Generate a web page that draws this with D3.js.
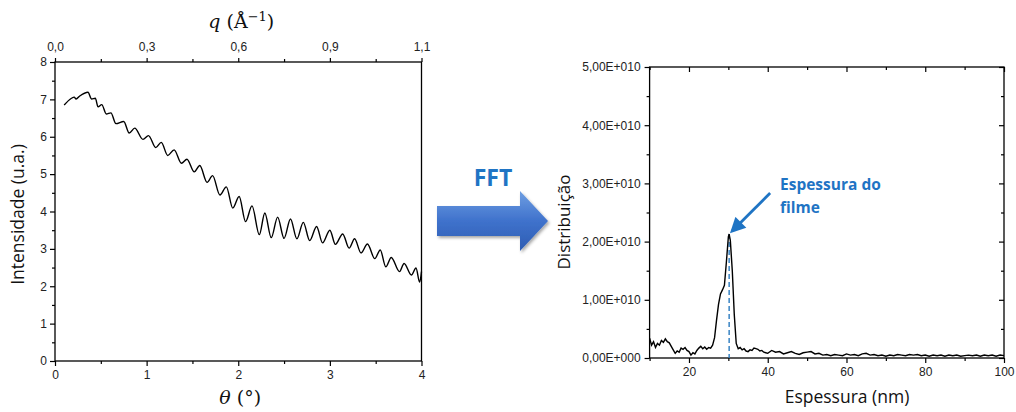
<!DOCTYPE html>
<html>
<head>
<meta charset="utf-8">
<script src="https://cdn.jsdelivr.net/npm/d3@7"></script>
<style>
body{margin:0;background:#fff;}
</style>
</head>
<body>
<svg id="chart" width="1016" height="412"></svg>
<script>
var thetaValues = [0.10,0.18,0.21,0.23,0.27,0.36,0.40,0.44,0.47,0.51,0.56,0.61,0.665,0.75,0.81,0.87,0.96,1.02,1.10,1.16,1.23,1.30,1.38,1.44,1.52,1.58,1.66,1.72,1.80,1.87,1.94,2.01,2.08,2.15,2.23,2.29,2.36,2.43,2.50,2.57,2.64,2.71,2.78,2.855,2.92,3.00,3.06,3.14,3.21,3.27,3.34,3.41,3.49,3.55,3.61,3.67,3.76,3.81,3.89,3.94,3.98,4.00];
var intensityValues = [6.85,7.03,7.06,7.01,7.09,7.19,7.01,7.03,6.80,6.86,6.61,6.64,6.35,6.41,6.10,6.23,5.93,6.03,5.71,5.85,5.50,5.65,5.29,5.40,5.06,5.23,4.78,4.96,4.44,4.66,4.09,4.40,3.73,4.15,3.38,3.96,3.30,3.85,3.28,3.80,3.27,3.71,3.22,3.60,3.16,3.50,3.12,3.40,3.02,3.27,2.89,3.13,2.74,2.97,2.52,2.77,2.39,2.61,2.30,2.49,2.11,2.39];
var thetaTicks = [0,1,2,3,4];
var thetaMinor = [0.5,1.5,2.5,3.5];
var qTickLabels = ["0,0","0,3","0,6","0,9","1,1"];
var intensityTicks = [0,1,2,3,4,5,6,7,8];
var intensityMinor = [0.5,1.5,2.5,3.5,4.5,5.5,6.5,7.5];

// right panel: thickness distribution (values in units of 1E+010)
var thicknessValues = [10,10.5,11,11.5,12,12.5,13,13.5,14,14.5,15,15.5,16,16.5,17,17.5,18,18.5,19,19.5,20,20.5,21,21.5,22,22.5,23,23.5,24,24.5,25,25.5,26,26.5,27,27.5,28,28.5,29,29.5,30,30.2,30.5,31,31.5,32,32.5,33,33.5,34,34.5,35,35.5,36,36.5,37,37.5,38,38.5,39,39.5,40,
  41,42,43,44,45,46,47,48,49,50,51,52,53,54,55,56,57,58,59,60,61,62,63,64,65,66,67,68,69,70,71,72,73,74,75,76,77,78,79,80,81,82,83,84,85,86,87,88,89,90,91,92,93,94,95,96,97,98,99,100];
var distValues = [0.34,0.22,0.28,0.18,0.25,0.22,0.30,0.27,0.33,0.28,0.26,0.20,0.14,0.08,0.12,0.10,0.17,0.15,0.18,0.13,0.11,0.05,0.09,0.07,0.13,0.17,0.20,0.16,0.19,0.15,0.18,0.17,0.22,0.35,0.65,0.92,1.10,1.17,1.25,1.65,2.08,2.13,2.02,1.50,0.75,0.25,0.16,0.18,0.14,0.16,0.12,0.11,0.14,0.13,0.17,0.16,0.15,0.12,0.13,0.10,0.09,0.08,
  0.13,0.10,0.11,0.07,0.09,0.11,0.08,0.06,0.09,0.10,0.11,0.07,0.08,0.05,0.06,0.04,0.06,0.05,0.04,0.07,0.05,0.06,0.04,0.07,0.08,0.05,0.06,0.04,0.05,0.03,0.05,0.04,0.06,0.05,0.04,0.06,0.05,0.06,0.04,0.05,0.03,0.05,0.04,0.05,0.03,0.05,0.04,0.05,0.03,0.04,0.05,0.04,0.05,0.03,0.05,0.04,0.05,0.03,0.05,0.04];
var thicknessTicks = [20,40,60,80,100];
var thicknessMinor = [10,30,50,70,90];
var distTicks = [0,1,2,3,4,5];
var distMinor = [0.5,1.5,2.5,3.5,4.5];
var distTickLabels = ["0,00E+000","1,00E+010","2,00E+010","3,00E+010","4,00E+010","5,00E+010"];
var peakThickness = 30.2;
var peakValue = 2.13;

var blue = "#1f74c4";
var tickFont = "'Liberation Sans', Arial, sans-serif";
var titleFont = "'Open Sans', 'Noto Sans', sans-serif";

var svg = d3.select("#chart");
var defs = svg.append("defs");

function tidy(g, size){
  g.select(".domain").remove();
  g.selectAll("line").attr("stroke", "#000").attr("stroke-width", 1.2);
  g.selectAll("text").attr("fill", "#222").attr("font-size", size).attr("font-family", tickFont);
}

// ---------- left panel ----------
var L = {left: 55, right: 421.5, top: 62, bottom: 361};
var xL = d3.scaleLinear().domain([0, 4]).range([L.left, L.right]);
var yL = d3.scaleLinear().domain([0, 8]).range([L.bottom, L.top]);

svg.append("g").attr("transform", "translate(0," + L.bottom + ")")
  .call(d3.axisBottom(xL).tickValues(thetaTicks).tickSize(5).tickPadding(4).tickFormat(d3.format("d")))
  .call(tidy, 12);
svg.append("g").attr("transform", "translate(0," + L.bottom + ")")
  .call(d3.axisBottom(xL).tickValues(thetaMinor).tickSize(3).tickFormat(""))
  .call(tidy, 12);
svg.append("g").attr("transform", "translate(0," + L.top + ")")
  .call(d3.axisTop(xL).tickValues(thetaTicks).tickSize(4).tickPadding(7).tickFormat(function(d, i){ return qTickLabels[i]; }))
  .call(tidy, 12);
svg.append("g").attr("transform", "translate(0," + L.top + ")")
  .call(d3.axisTop(xL).tickValues(thetaMinor).tickSize(3).tickFormat(""))
  .call(tidy, 12);
svg.append("g").attr("transform", "translate(" + L.left + ",0)")
  .call(d3.axisLeft(yL).tickValues(intensityTicks).tickSize(5).tickPadding(3).tickFormat(d3.format("d")))
  .call(tidy, 12);
svg.append("g").attr("transform", "translate(" + L.left + ",0)")
  .call(d3.axisLeft(yL).tickValues(intensityMinor).tickSize(3).tickFormat(""))
  .call(tidy, 12);

svg.append("rect").attr("x", L.left).attr("y", L.top)
  .attr("width", L.right - L.left).attr("height", L.bottom - L.top)
  .attr("fill", "none").attr("stroke", "#000").attr("stroke-width", 1.3);

var lineL = d3.line()
  .x(function(d, i){ return xL(thetaValues[i]); })
  .y(function(d){ return yL(d); })
  .curve(d3.curveMonotoneX);
svg.append("path").datum(intensityValues)
  .attr("d", lineL).attr("fill", "none").attr("stroke", "#000").attr("stroke-width", 1.4);

// axis titles
svg.append("text").attr("transform", "translate(24," + ((L.top + L.bottom) / 2 + 3) + ") rotate(-90)")
  .attr("text-anchor", "middle").attr("font-family", titleFont).attr("font-size", 17.5).attr("fill", "#111")
  .text("Intensidade (u.a.)");
var thetaTitle = svg.append("text").attr("x", (L.left + L.right) / 2 + 2).attr("y", 404)
  .attr("text-anchor", "middle").attr("font-family", "'DejaVu Serif', 'Liberation Serif', serif").attr("font-size", 19).attr("fill", "#111");
thetaTitle.append("tspan").attr("font-style", "italic").text("θ");
thetaTitle.append("tspan").text(" (°)");
var qTitle = svg.append("text").attr("x", (L.left + L.right) / 2 + 3).attr("y", 28)
  .attr("text-anchor", "middle").attr("font-family", "'DejaVu Serif', 'Liberation Serif', serif").attr("font-size", 19).attr("fill", "#111");
qTitle.append("tspan").attr("font-style", "italic").text("q");
qTitle.append("tspan").text(" (Å");
qTitle.append("tspan").attr("dy", -7).attr("font-size", 13).text("−1");
qTitle.append("tspan").attr("dy", 7).text(")");

// ---------- FFT arrow ----------
var grad = defs.append("linearGradient").attr("id", "arrowGrad").attr("x1", 0).attr("y1", 0).attr("x2", 0).attr("y2", 1);
grad.append("stop").attr("offset", "0%").attr("stop-color", "#6f9fe2");
grad.append("stop").attr("offset", "50%").attr("stop-color", "#3f72cc");
grad.append("stop").attr("offset", "100%").attr("stop-color", "#2d5cb2");
var shadow = defs.append("filter").attr("id", "shadow").attr("x", "-10%").attr("y", "-10%").attr("width", "130%").attr("height", "140%");
shadow.append("feDropShadow").attr("dx", 1.5).attr("dy", 2).attr("stdDeviation", 1.8).attr("flood-color", "#000").attr("flood-opacity", 0.35);

var ax = 437, ay = 221, shaftH = 30, headH = 60, headX = 520, tipX = 548;
svg.append("path")
  .attr("d", "M" + ax + "," + (ay - shaftH / 2) + "L" + headX + "," + (ay - shaftH / 2) + "L" + headX + "," + (ay - headH / 2)
    + "L" + tipX + "," + ay + "L" + headX + "," + (ay + headH / 2) + "L" + headX + "," + (ay + shaftH / 2)
    + "L" + ax + "," + (ay + shaftH / 2) + "Z")
  .attr("fill", "url(#arrowGrad)").attr("filter", "url(#shadow)");
svg.append("text").attr("x", 493).attr("y", 186).attr("text-anchor", "middle")
  .attr("font-family", titleFont).attr("font-weight", "bold").attr("font-size", 23).attr("fill", blue)
  .text("FFT");

// ---------- right panel ----------
var R = {left: 649.6, right: 1004, top: 67, bottom: 358};
var xR = d3.scaleLinear().domain([10, 100]).range([R.left, R.right]);
var yR = d3.scaleLinear().domain([0, 5]).range([R.bottom, R.top]);

svg.append("g").attr("transform", "translate(0," + R.bottom + ")")
  .call(d3.axisBottom(xR).tickValues(thicknessTicks).tickSize(5).tickPadding(4).tickFormat(d3.format("d")))
  .call(tidy, 12);
svg.append("g").attr("transform", "translate(0," + R.bottom + ")")
  .call(d3.axisBottom(xR).tickValues(thicknessMinor).tickSize(3).tickFormat(""))
  .call(tidy, 12);
svg.append("g").attr("transform", "translate(0," + R.top + ")")
  .call(d3.axisBottom(xR).tickValues(thicknessTicks).tickSize(5).tickFormat(""))
  .call(tidy, 12);
svg.append("g").attr("transform", "translate(0," + R.top + ")")
  .call(d3.axisBottom(xR).tickValues(thicknessMinor).tickSize(3).tickFormat(""))
  .call(tidy, 12);
svg.append("g").attr("transform", "translate(" + R.left + ",0)")
  .call(d3.axisLeft(yR).tickValues(distTicks).tickSize(5).tickPadding(4).tickFormat(function(d, i){ return distTickLabels[i]; }))
  .call(tidy, 12);
svg.append("g").attr("transform", "translate(" + R.left + ",0)")
  .call(d3.axisLeft(yR).tickValues(distMinor).tickSize(3).tickFormat(""))
  .call(tidy, 12);
svg.append("g").attr("transform", "translate(" + R.right + ",0)")
  .call(d3.axisLeft(yR).tickValues(distTicks).tickSize(5).tickFormat(""))
  .call(tidy, 12);
svg.append("g").attr("transform", "translate(" + R.right + ",0)")
  .call(d3.axisLeft(yR).tickValues(distMinor).tickSize(3).tickFormat(""))
  .call(tidy, 12);

svg.append("rect").attr("x", R.left).attr("y", R.top)
  .attr("width", R.right - R.left).attr("height", R.bottom - R.top)
  .attr("fill", "none").attr("stroke", "#000").attr("stroke-width", 1.3);

// dashed marker at the peak
svg.append("line")
  .attr("x1", xR(peakThickness)).attr("x2", xR(peakThickness))
  .attr("y1", yR(peakValue)).attr("y2", yR(0))
  .attr("stroke", "#2b7bbf").attr("stroke-width", 1.4).attr("stroke-dasharray", "5,3");

var lineR = d3.line()
  .x(function(d, i){ return xR(thicknessValues[i]); })
  .y(function(d){ return yR(d); });
svg.append("path").datum(distValues)
  .attr("d", lineR).attr("fill", "none").attr("stroke", "#000").attr("stroke-width", 1.4);

svg.append("text").attr("transform", "translate(570," + 222 + ") rotate(-90)")
  .attr("text-anchor", "middle").attr("font-family", titleFont).attr("font-size", 17).attr("fill", "#111")
  .text("Distribuição");
svg.append("text").attr("x", 847).attr("y", 403).attr("text-anchor", "middle")
  .attr("font-family", titleFont).attr("font-size", 17.5).attr("fill", "#111")
  .text("Espessura (nm)");

// annotation
var tipPx = xR(peakThickness) + 1, tipPy = yR(peakValue) - 1;
defs.append("marker").attr("id", "head").attr("viewBox", "0 0 10 10")
  .attr("refX", 8).attr("refY", 5).attr("markerWidth", 6).attr("markerHeight", 5.5)
  .attr("orient", "auto").attr("markerUnits", "strokeWidth")
  .append("path").attr("d", "M0,0L10,5L0,10Z").attr("fill", blue);
svg.append("line")
  .attr("x1", tipPx + 40).attr("y1", tipPy - 40)
  .attr("x2", tipPx + 2).attr("y2", tipPy - 2)
  .attr("stroke", blue).attr("stroke-width", 2.8).attr("marker-end", "url(#head)");
var ann = svg.append("text").attr("font-family", titleFont).attr("font-weight", "bold")
  .attr("font-size", 15.5).attr("fill", blue);
ann.append("tspan").attr("x", 780).attr("y", 190).text("Espessura do");
ann.append("tspan").attr("x", 780).attr("y", 213).text("filme");
</script>
</body>
</html>
